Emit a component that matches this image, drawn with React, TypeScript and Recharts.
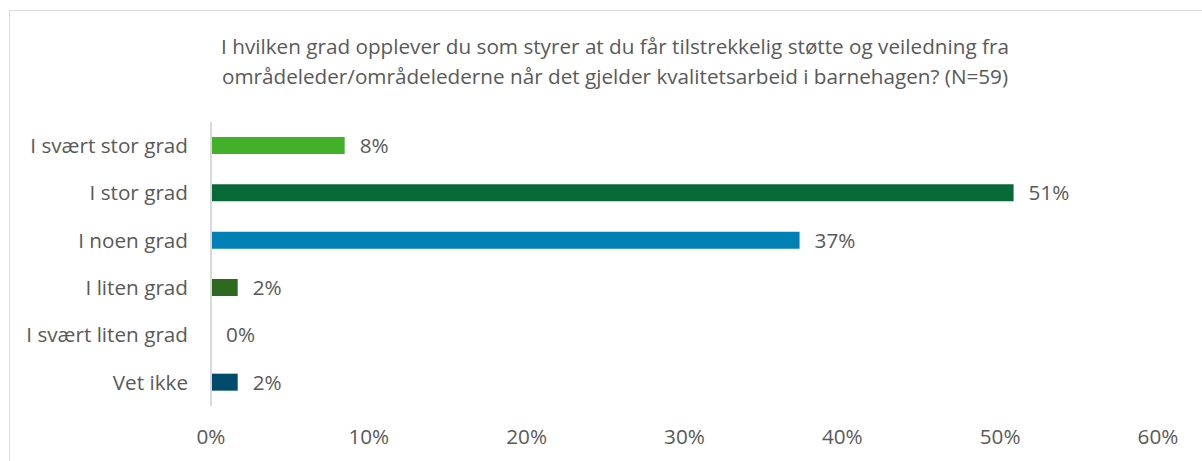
import { BarChart, Bar, XAxis, YAxis, Cell, LabelList } from 'recharts'

// Svarkategorier og andel (N=59)
const categories = ['I svært stor grad', 'I stor grad', 'I noen grad', 'I liten grad', 'I svært liten grad', 'Vet ikke']
const shares = [8.47, 50.85, 37.29, 1.69, 0, 1.69]
const barColors = ['#43B02A', '#076937', '#0080B5', '#2D6A1F', 'none', '#004B6B']
const xTicks = [0, 10, 20, 30, 40, 50, 60]

const data = categories.map((name, i) => ({ name, value: shares[i] }))

const FONT = '"Open Sans", sans-serif'
const GREY = '#595959'
const FS = 20.7

export default function App() {
  return (
    <div style={s.page}>
      <div style={s.frame} />
      <div style={s.title}>
        I hvilken grad opplever du som styrer at du får tilstrekkelig støtte og veiledning fra
        <br />
        områdeleder/områdelederne når det gjelder kvalitetsarbeid i barnehagen? (N=59)
      </div>
      <BarChart
        width={1202}
        height={461}
        data={data}
        layout="vertical"
        margin={{ top: 122, right: 44, bottom: 25, left: 0 }}
        style={{ position: 'absolute', left: 0, top: 0 }}
      >
        <XAxis
          type="number"
          domain={[0, 60]}
          ticks={xTicks}
          tickFormatter={(v: number) => `${v}%`}
          axisLine={false}
          tickLine={false}
          tickMargin={17}
          interval={0}
          height={30}
          tick={{ fontSize: FS, fill: GREY, fontFamily: FONT }}
        />
        <YAxis
          type="category"
          dataKey="name"
          width={211}
          axisLine={{ stroke: '#d9d9d9', strokeWidth: 2 }}
          tickLine={false}
          tickMargin={17}
          interval={0}
          tick={{ fontSize: FS, fill: GREY, fontFamily: FONT }}
        />
        <Bar
          dataKey="value"
          barSize={17}
          minPointSize={(v: number) => (v === 0 ? 0.1 : 0)}
          isAnimationActive={false}
        >
          {data.map((d, i) => (
            <Cell key={d.name} fill={barColors[i]} />
          ))}
          <LabelList
            dataKey="value"
            position="right"
            offset={15}
            formatter={(v: number) => `${Math.round(v)}%`}
            style={{ fontSize: FS, fill: GREY, fontFamily: FONT }}
          />
        </Bar>
      </BarChart>
    </div>
  )
}

const s = {
  page: {
    position: 'absolute' as const,
    left: 0,
    top: 0,
    width: 1202,
    height: 461,
    overflow: 'hidden',
    background: '#fff',
  } as React.CSSProperties,

  frame: {
    position: 'absolute' as const,
    left: 9,
    top: 10,
    width: 1200,
    height: 460,
    border: '1px solid #d9d9d9',
  } as React.CSSProperties,

  title: {
    position: 'absolute' as const,
    left: 0,
    top: 31,
    width: 1230,
    textAlign: 'center' as const,
    fontFamily: FONT,
    fontSize: FS,
    lineHeight: '30px',
    color: GREY,
  } as React.CSSProperties,
}
